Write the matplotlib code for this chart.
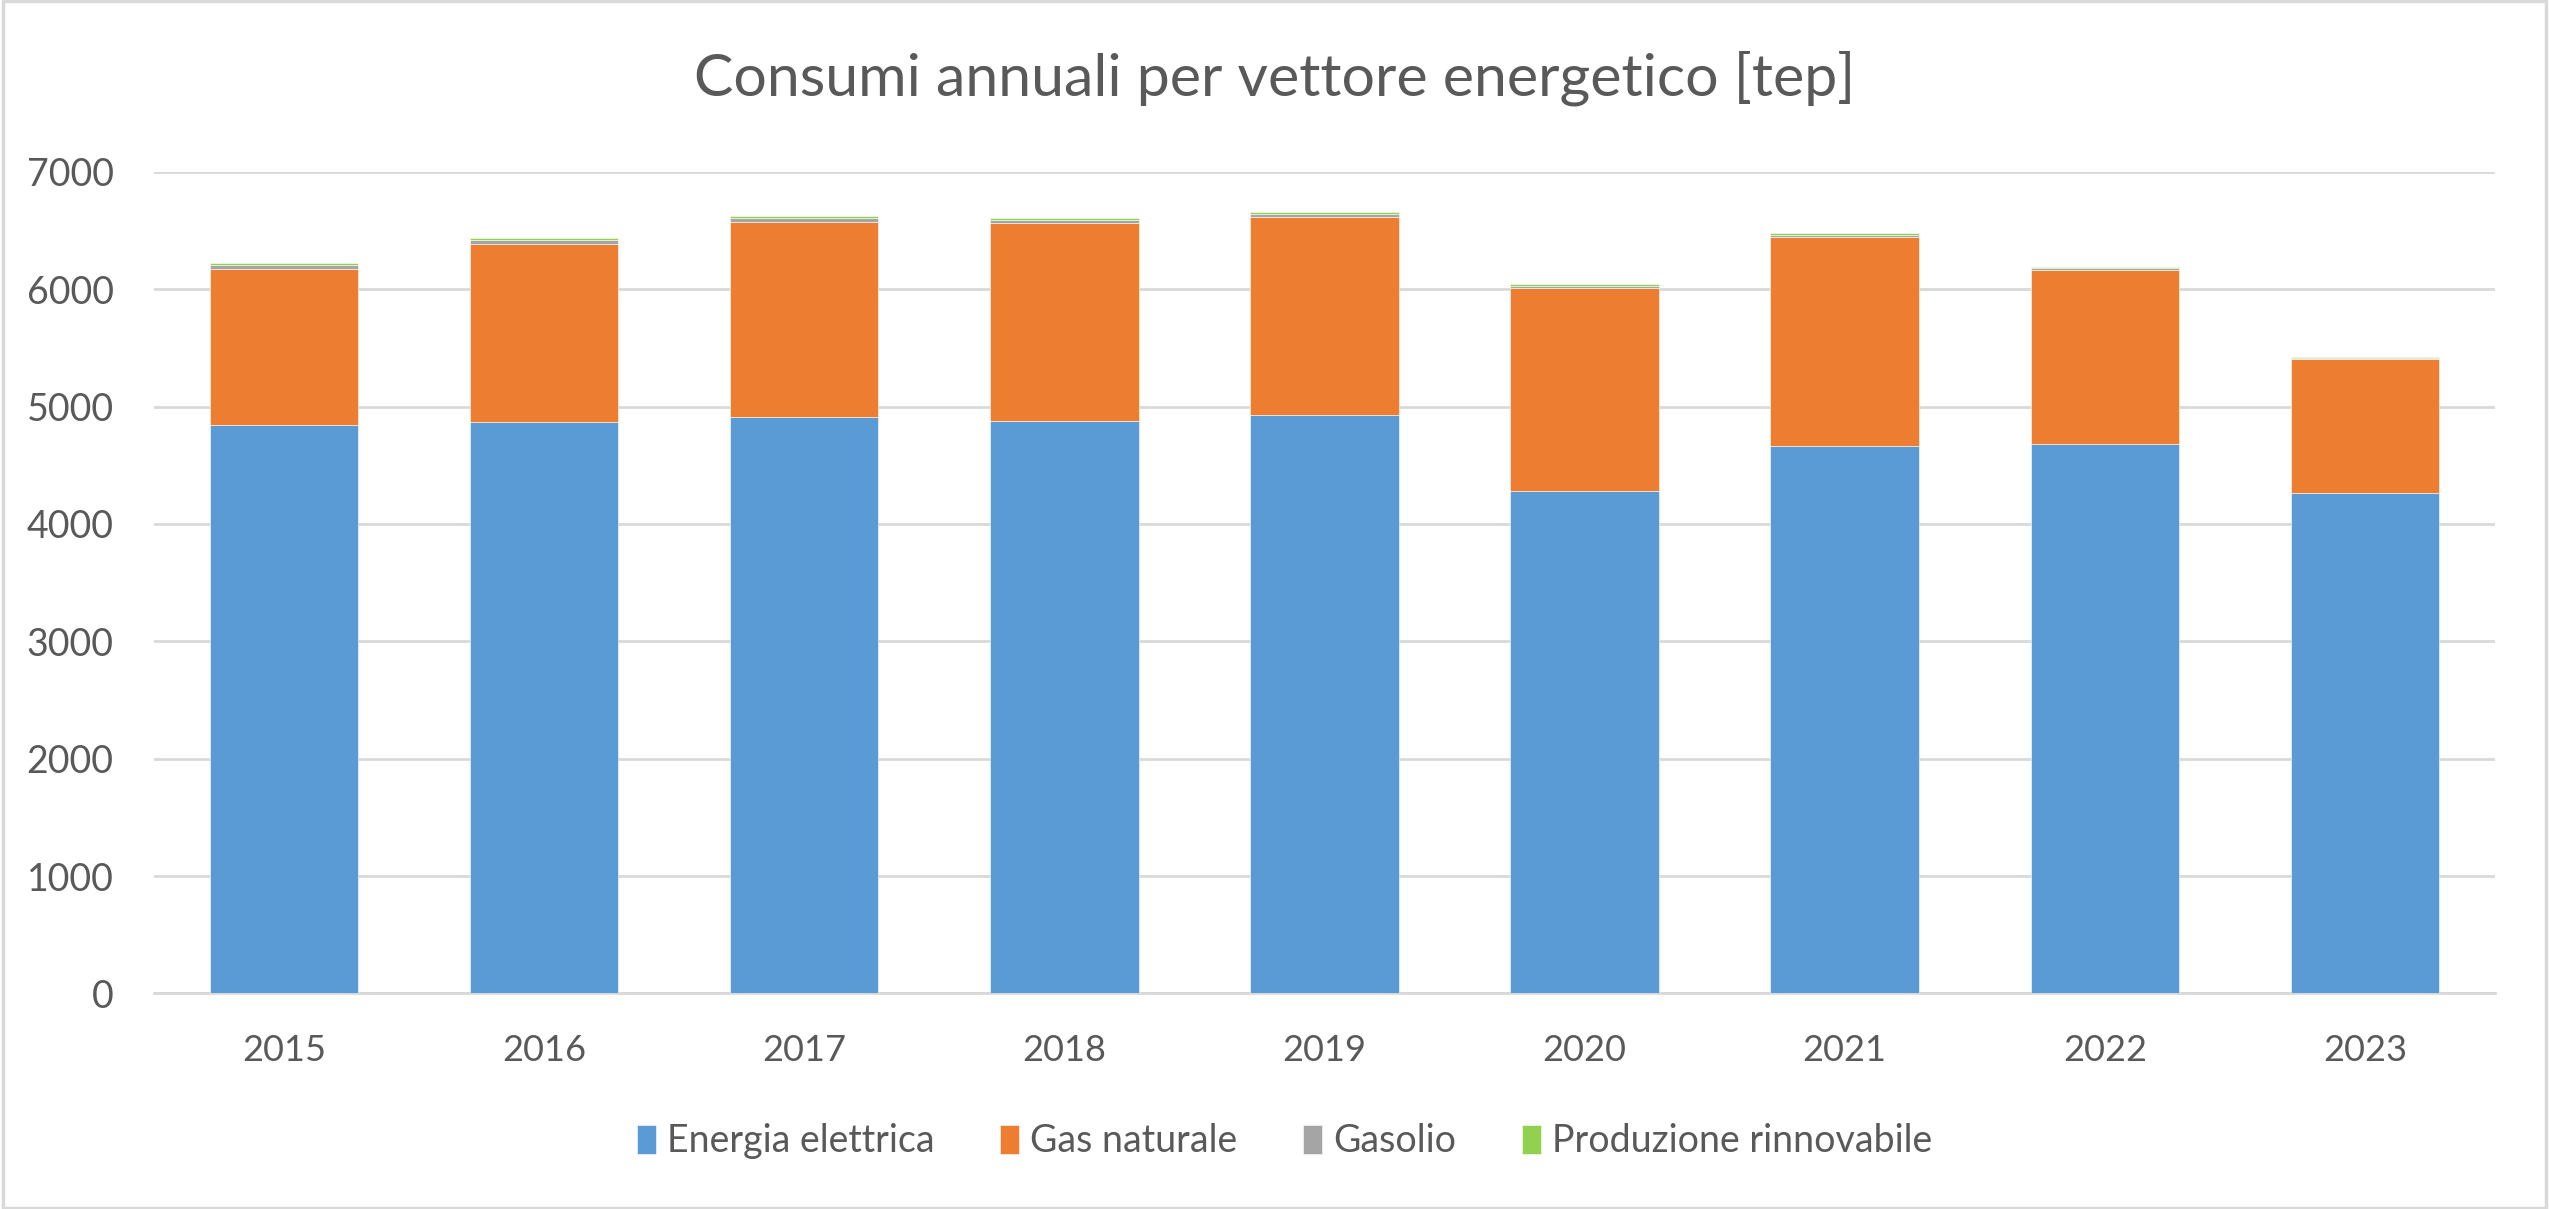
import matplotlib
matplotlib.use("Agg")
import matplotlib.pyplot as plt
from matplotlib.patches import Rectangle
import numpy as np

years = ["2015", "2016", "2017", "2018", "2019", "2020", "2021", "2022", "2023"]
energia_elettrica = [4841, 4866, 4909, 4875, 4926, 4278, 4665, 4682, 4261]
gas_naturale = [1335, 1523, 1668, 1693, 1693, 1736, 1784, 1486, 1142]
gasolio = [32, 30, 33, 26, 26, 17, 17, 11, 9]
produzione_rinnovabile = [14, 14, 14, 11, 11, 12, 14, 11, 11]
series_names = ["Energia elettrica", "Gas naturale", "Gasolio", "Produzione rinnovabile"]
colors = ["#5B9BD5", "#ED7D31", "#A5A5A5", "#92D050"]
yticks = [0, 1000, 2000, 3000, 4000, 5000, 6000, 7000]
title = "Consumi annuali per vettore energetico [tep]"

plt.rcParams['font.family'] = ['Lato', 'DejaVu Sans']
text_color = "#595959"

fig = plt.figure(figsize=(25.49, 12.09), dpi=100)
fig.patches.append(Rectangle((0.001, 0.001), 0.998, 0.998, transform=fig.transFigure,
                             fill=False, edgecolor="#D9D9D9", linewidth=2.5))
ax = fig.add_axes([0.0604, 0.1783, 0.9184, 0.6795])

x = np.arange(len(years))
bottom = np.zeros(len(years))
handles = []
for name, vals, c in zip(series_names,
                         [energia_elettrica, gas_naturale, gasolio, produzione_rinnovabile],
                         colors):
    h = ax.bar(x, vals, width=0.571, bottom=bottom, color=c, label=name,
               edgecolor="white", linewidth=0.4, zorder=3)
    handles.append(h)
    bottom = bottom + np.array(vals)

ax.set_xlim(-0.5, len(years) - 0.5)
ax.set_ylim(0, 7000)
ax.set_yticks(yticks)
ax.set_yticklabels([str(v) for v in yticks])
ax.set_xticks(x)
ax.set_xticklabels(years)
ax.yaxis.grid(True, color="#D9D9D9", linewidth=2.0, zorder=0)
ax.set_axisbelow(True)
for s in ["top", "right", "left"]:
    ax.spines[s].set_visible(False)
ax.spines["bottom"].set_color("#D9D9D9")
ax.spines["bottom"].set_linewidth(2.0)
ax.tick_params(axis="y", length=0, pad=29, labelsize=27, labelcolor=text_color)
ax.tick_params(axis="x", length=0, pad=29, labelsize=26, labelcolor=text_color)

fig.text(0.5, 0.935, title, ha="center", va="center", fontsize=42.5, color=text_color)

leg = fig.legend(handles=handles, labels=series_names, loc="center",
                 bbox_to_anchor=(0.504, 0.056), ncol=4, frameon=False,
                 fontsize=27, handlelength=0.5, handleheight=0.8,
                 handletextpad=0.3, columnspacing=1.75)
for t in leg.get_texts():
    t.set_color(text_color)

fig.savefig("out.png", dpi=100)
